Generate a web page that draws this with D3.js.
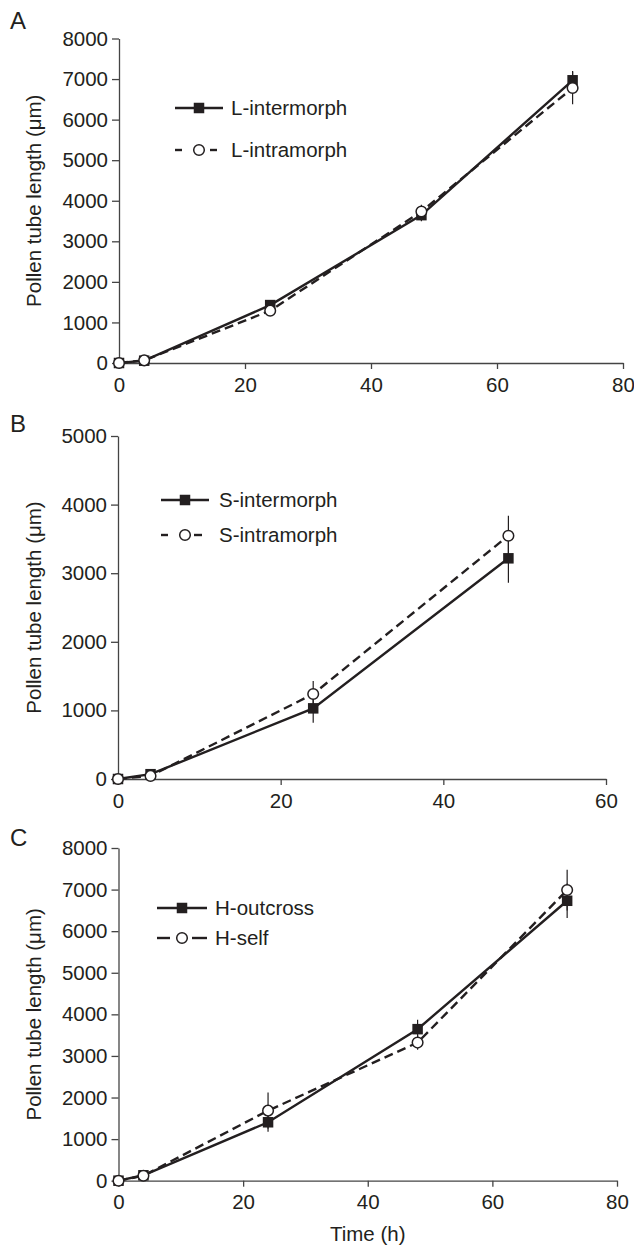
<!DOCTYPE html>
<html>
<head>
<meta charset="utf-8">
<script src="https://cdn.jsdelivr.net/npm/d3@7"></script>
<style>
  html, body { margin: 0; padding: 0; background: #fff; }
  svg { display: block; }
  text { font-family: "Liberation Sans", Arial, Helvetica, sans-serif; fill: #231f20; }
</style>
</head>
<body>
<svg id="chart" width="634" height="1246"></svg>
<script>
// ---------- DATA ----------
// Panel A
const timesA = [0, 4, 24, 48, 72];
const lInter = [0, 57, 1428, 3645, 6970];
const lInterErr = [0, 20, 60, 150, 230];
const lIntra = [0, 65, 1290, 3734, 6780];
const lIntraErr = [0, 20, 50, 170, 400];
const xTicksA = [0, 20, 40, 60, 80];
const yTicksA = [0, 1000, 2000, 3000, 4000, 5000, 6000, 7000, 8000];
const namesA = ["L-intermorph", "L-intramorph"];

// Panel B
const timesB = [0, 4, 24, 48];
const sInter = [0, 70, 1030, 3217];
const sInterErr = [0, 20, 210, 355];
const sIntra = [0, 45, 1239, 3547];
const sIntraErr = [0, 20, 190, 290];
const xTicksB = [0, 20, 40, 60];
const yTicksB = [0, 1000, 2000, 3000, 4000, 5000];
const namesB = ["S-intermorph", "S-intramorph"];

// Panel C
const timesC = [0, 4, 24, 48, 72];
const hOut = [0, 130, 1405, 3644, 6731];
const hOutErr = [0, 30, 225, 224, 416];
const hSelf = [0, 120, 1685, 3321, 6989];
const hSelfErr = [0, 30, 433, 175, 489];
const xTicksC = [0, 20, 40, 60, 80];
const yTicksC = [0, 1000, 2000, 3000, 4000, 5000, 6000, 7000, 8000];
const namesC = ["H-outcross", "H-self"];

const panelLetters = ["A", "B", "C"];
const yTitle = "Pollen tube length (\u03bcm)";
const xTitle = "Time (h)";

// ---------- LAYOUT (not data) ----------
const layouts = [
  { left: 119, right: 623, top: 38.5, bottom: 363, letterX: 10, letterY: 29,
    legLine: [175, 223], legMark: 199, legText: 231, legRows: [108, 150], dashLeg: [[175, 182], [210, 217]] },
  { left: 118, right: 606, top: 436, bottom: 779, letterX: 10, letterY: 432,
    legLine: [161, 209], legMark: 185, legText: 219, legRows: [500, 535], dashLeg: [[161, 168], [194, 202]] },
  { left: 118.5, right: 617, top: 848, bottom: 1180.7, letterX: 10, letterY: 846,
    legLine: [157, 207], legMark: 182, legText: 215, legRows: [908, 938], dashLeg: [[157, 170], [192, 207]] }
];

const panelsData = [
  { times: timesA, s1: lInter, e1: lInterErr, s2: lIntra, e2: lIntraErr, xTicks: xTicksA, yTicks: yTicksA, names: namesA },
  { times: timesB, s1: sInter, e1: sInterErr, s2: sIntra, e2: sIntraErr, xTicks: xTicksB, yTicks: yTicksB, names: namesB },
  { times: timesC, s1: hOut, e1: hOutErr, s2: hSelf, e2: hSelfErr, xTicks: xTicksC, yTicks: yTicksC, names: namesC }
];

const ink = "#231f20";
const svg = d3.select("#chart");
const sq = 10.5, cr = 5.3;

panelsData.forEach((pd, i) => {
  const L = layouts[i];
  const g = svg.append("g");
  const x = d3.scaleLinear().domain([pd.xTicks[0], pd.xTicks[pd.xTicks.length - 1]]).range([L.left, L.right]);
  const y = d3.scaleLinear().domain([pd.yTicks[0], pd.yTicks[pd.yTicks.length - 1]]).range([L.bottom, L.top]);

  // axes
  const xa = g.append("g").attr("transform", `translate(0,${L.bottom})`)
    .call(d3.axisBottom(x).tickValues(pd.xTicks).tickFormat(d3.format("d")).tickSize(6).tickSizeOuter(0).tickPadding(8));
  const ya = g.append("g").attr("transform", `translate(${L.left},0)`)
    .call(d3.axisLeft(y).tickValues(pd.yTicks).tickFormat(d3.format("d")).tickSize(7).tickSizeOuter(0).tickPadding(4));
  [xa, ya].forEach(a => {
    a.select(".domain").attr("stroke", "#444").attr("stroke-width", 1.3);
    a.selectAll(".tick line").attr("stroke", "#444").attr("stroke-width", 1.3);
    a.selectAll(".tick text").attr("font-size", 20.5).attr("fill", ink)
      .attr("font-family", '"Liberation Sans", Arial, sans-serif');
  });

  // panel letter
  g.append("text").attr("x", L.letterX).attr("y", L.letterY).attr("font-size", 24).text(panelLetters[i]);

  // y title
  g.append("text")
    .attr("transform", `translate(41,${(L.top + L.bottom) / 2}) rotate(-90)`)
    .attr("text-anchor", "middle").attr("font-size", 20.5).text(yTitle);

  // lines
  const pts1 = pd.times.map((t, k) => [t, pd.s1[k], pd.e1[k]]);
  const pts2 = pd.times.map((t, k) => [t, pd.s2[k], pd.e2[k]]);
  const line = d3.line().x(d => x(d[0])).y(d => y(d[1]));
  g.append("path").datum(pts2).attr("d", line).attr("fill", "none")
    .attr("stroke", ink).attr("stroke-width", 2.4).attr("stroke-dasharray", "9,5");
  g.append("path").datum(pts1).attr("d", line).attr("fill", "none")
    .attr("stroke", ink).attr("stroke-width", 2.4);

  // error bars
  [pts1, pts2].forEach(pts => {
    g.selectAll(null).data(pts.filter(d => d[2] > 0)).enter().append("line")
      .attr("x1", d => x(d[0])).attr("x2", d => x(d[0]))
      .attr("y1", d => y(d[1] - d[2])).attr("y2", d => y(d[1] + d[2]))
      .attr("stroke", ink).attr("stroke-width", 1.2);
  });

  // markers
  g.selectAll(null).data(pts1).enter().append("rect")
    .attr("x", d => x(d[0]) - sq / 2).attr("y", d => y(d[1]) - sq / 2)
    .attr("width", sq).attr("height", sq).attr("fill", ink);
  g.selectAll(null).data(pts2).enter().append("circle")
    .attr("cx", d => x(d[0])).attr("cy", d => y(d[1])).attr("r", cr)
    .attr("fill", "#fff").attr("stroke", ink).attr("stroke-width", 1.5);

  // legend
  const r1 = L.legRows[0], r2 = L.legRows[1];
  g.append("line").attr("x1", L.legLine[0]).attr("x2", L.legLine[1]).attr("y1", r1).attr("y2", r1)
    .attr("stroke", ink).attr("stroke-width", 2.4);
  g.append("rect").attr("x", L.legMark - sq / 2).attr("y", r1 - sq / 2).attr("width", sq).attr("height", sq).attr("fill", ink);
  L.dashLeg.forEach(dl => {
    g.append("line").attr("x1", dl[0]).attr("x2", dl[1]).attr("y1", r2).attr("y2", r2)
      .attr("stroke", ink).attr("stroke-width", 2.4);
  });
  g.append("circle").attr("cx", L.legMark).attr("cy", r2).attr("r", cr)
    .attr("fill", "#fff").attr("stroke", ink).attr("stroke-width", 1.5);
  g.append("text").attr("x", L.legText).attr("y", r1).attr("dy", "0.36em").attr("font-size", 20.5).text(pd.names[0]);
  g.append("text").attr("x", L.legText).attr("y", r2).attr("dy", "0.36em").attr("font-size", 20.5).text(pd.names[1]);

  if (i === 2) {
    g.append("text").attr("x", (L.left + L.right) / 2).attr("y", 1241)
      .attr("text-anchor", "middle").attr("font-size", 20.5).text(xTitle);
  }
});
</script>
</body>
</html>
